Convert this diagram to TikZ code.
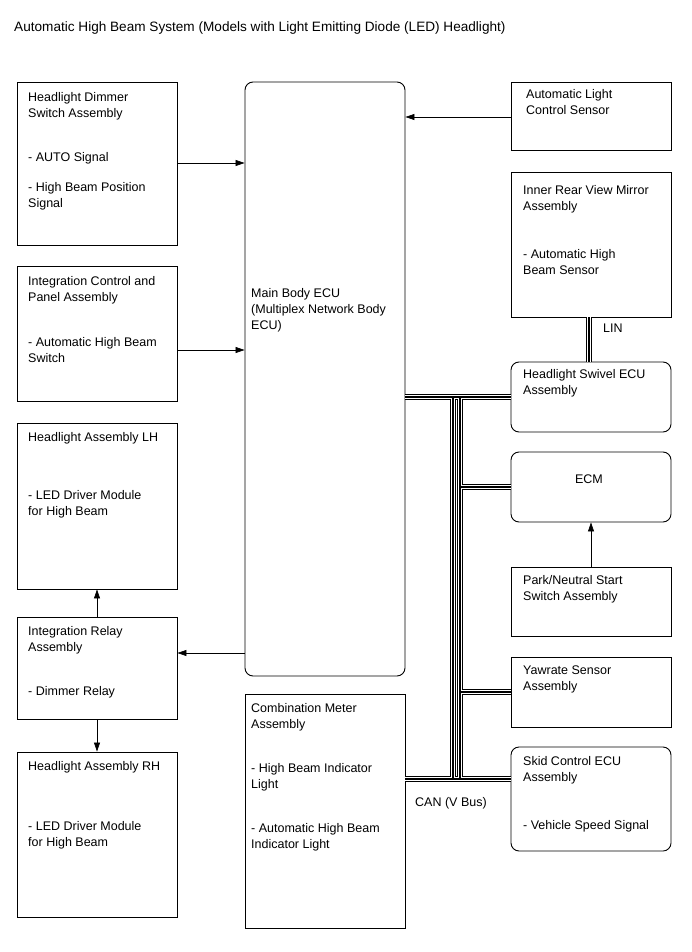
\documentclass[tikz,border=0pt]{standalone}
\usepackage{fontspec}
\setmainfont{Liberation Sans}
\usetikzlibrary{arrows.meta}
\begin{document}
\begin{tikzpicture}[x=1pt,y=-1pt,
 box/.style={draw=black, line width=0.9pt, rectangle, inner sep=0pt, minimum width=160pt},
 rbox/.style={box, rounded corners=8pt},
 txt/.style={anchor=north west, inner sep=0pt, align=left, font=\fontsize{12.5}{16}\selectfont},
 lbl/.style={anchor=base west, inner sep=0pt, font=\fontsize{12.5}{16}\selectfont},
 arr/.style={line width=0.7pt, -{Triangle[length=9pt,width=6pt]}},
 ]
\useasboundingbox (0,0) rectangle (691,952);
\fill[white] (0,0) rectangle (691,952);

\node[lbl, font=\fontsize{13.6}{16}\selectfont] (title) at (14,32) {Automatic High Beam System (Models with Light Emitting Diode (LED) Headlight)};

% left column
\node[box, minimum height=163pt] (dimmer) at (97,163.5) {};
\node[txt] (dimmerA) at (28,92) {Headlight Dimmer\\Switch Assembly};
\node[txt] (dimmerB) at (28,152) {- AUTO Signal};
\node[txt] (dimmerC) at (28,182) {- High Beam Position\\Signal};

\node[box, minimum height=135pt] (intctl) at (97,333.5) {};
\node[txt] (intctlA) at (28,276) {Integration Control and\\Panel Assembly};
\node[txt] (intctlB) at (28,337) {- Automatic High Beam\\Switch};

\node[box, minimum height=166pt] (lh) at (97,506) {};
\node[txt] (lhA) at (28,432) {Headlight Assembly LH};
\node[txt] (lhB) at (28,490) {- LED Driver Module\\for High Beam};

\node[box, minimum height=102pt] (relay) at (97,668) {};
\node[txt] (relayA) at (28,626) {Integration Relay\\Assembly};
\node[txt] (relayB) at (28,686) {- Dimmer Relay};

\node[box, minimum height=165pt] (rh) at (97,834.5) {};
\node[txt] (rhA) at (28,761) {Headlight Assembly RH};
\node[txt] (rhB) at (28,821) {- LED Driver Module\\for High Beam};

% middle column
\node[rbox, minimum height=594pt] (main) at (325,379) {};
\node[txt] (mainA) at (251,288) {Main Body ECU\\(Multiplex Network Body\\ECU)};

\node[box, minimum height=234pt] (meter) at (325,811) {};
\node[txt] (meterA) at (251,703) {Combination Meter\\Assembly};
\node[txt] (meterB) at (251,763) {- High Beam Indicator\\Light};
\node[txt] (meterC) at (251,823) {- Automatic High Beam\\Indicator Light};

% right column
\node[box, minimum height=68pt] (autolight) at (591,116) {};
\node[txt] (autolightA) at (526,89) {Automatic Light\\Control Sensor};

\node[box, minimum height=145pt] (mirror) at (591,244.5) {};
\node[txt] (mirrorA) at (523,185) {Inner Rear View Mirror\\Assembly};
\node[txt] (mirrorB) at (523,249) {- Automatic High\\Beam Sensor};

\node[rbox, minimum height=70pt] (swivel) at (591,397) {};
\node[txt] (swivelA) at (523,369) {Headlight Swivel ECU\\Assembly};

\node[rbox, minimum height=70pt] (ecm) at (591,487) {};
\node[anchor=base, inner sep=0pt, font=\fontsize{12.5}{16}\selectfont] (ecmA) at (589,483) {ECM};

\node[box, minimum height=69pt] (park) at (591,601.5) {};
\node[txt] (parkA) at (523,575) {Park/Neutral Start\\Switch Assembly};

\node[box, minimum height=70pt] (yaw) at (591,692) {};
\node[txt] (yawA) at (523,666) {Yawrate Sensor\\Assembly};

\node[rbox, minimum height=104pt] (skid) at (591,799) {};
\node[txt] (skidA) at (523,756) {Skid Control ECU\\Assembly};
\node[txt] (skidB) at (523,820) {- Vehicle Speed Signal};

% labels
\node[lbl] (lin) at (603,332) {LIN};
\node[lbl] (can) at (415,806) {CAN (V Bus)};

% arrows
\draw[arr] (dimmer.east |- 0,163) -- (main.west |- 0,163);
\draw[arr] (intctl.east |- 0,350) -- (main.west |- 0,350);
\draw[arr] (autolight.west |- 0,117) -- (main.east |- 0,117);
\draw[arr] (main.west |- 0,653) -- (relay.east |- 0,653);
\draw[arr] (relay.north) -- (lh.south);
\draw[arr] (relay.south) -- (rh.north);
\draw[arr] (park.north) -- (ecm.south);

% bus coordinates
\coordinate (jLt) at (453,397);
\coordinate (jLb) at (453,779);
\coordinate (jRt) at (460,397);
\coordinate (jRb) at (460,779);
\coordinate (linx) at (589,0);

\foreach \w/\c in {6.6pt/black,4pt/white,1.8pt/black} {
  \draw[line width=\w, draw=\c] (main.east |- jLt) -- (swivel.west |- jLt);
  \draw[line width=\w, draw=\c] (jLt) -- (jLb);
  \draw[line width=\w, draw=\c] (jRt) -- (jRb);
  \draw[line width=\w, draw=\c] (jRt |- ecm.west) -- (ecm.west);
  \draw[line width=\w, draw=\c] (jRt |- yaw.west) -- (yaw.west);
  \draw[line width=\w, draw=\c] (meter.east |- jLb) -- (skid.west |- jLb);
  \draw[line width=\w, draw=\c] (mirror.south -| linx) -- (swivel.north -| linx);
}
\end{tikzpicture}
\end{document}
